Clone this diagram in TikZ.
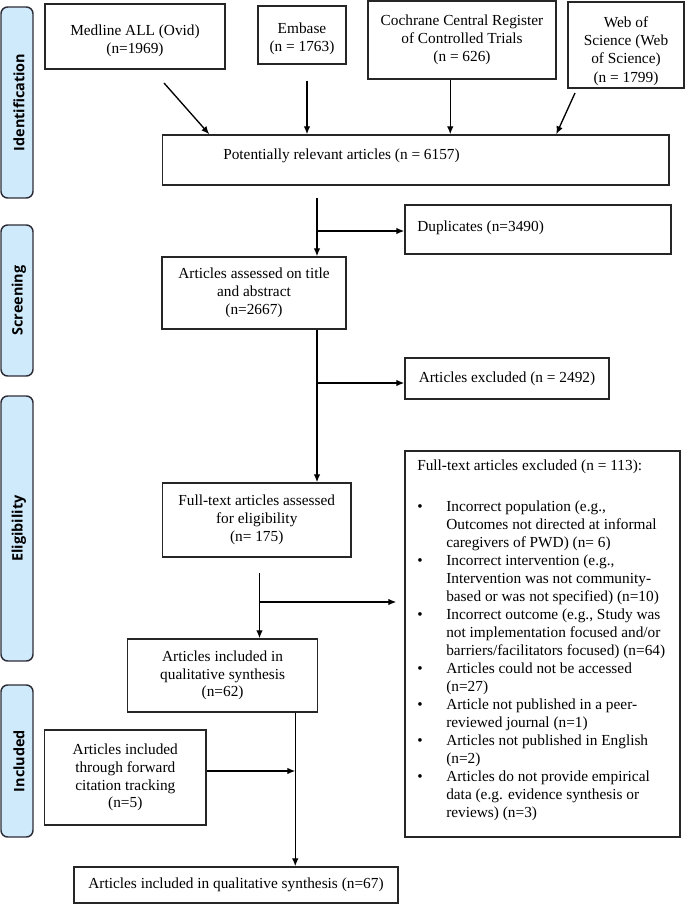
\documentclass[tikz,border=0pt]{standalone}
\usepackage{fontspec}
\setmainfont{Liberation Serif}
\newfontfamily\sidefont{Open Sans}
\usetikzlibrary{arrows.meta,calc,fit}
\definecolor{barfill}{RGB}{207,234,251}
\definecolor{barline}{RGB}{45,45,55}
\begin{document}
\begin{tikzpicture}[x=0.75pt,y=-0.75pt,
  box/.style={draw=black!85, line width=1.1pt, inner sep=0pt, align=center, font=\fontsize{11.5}{13.3}\selectfont},
  sz/.style 2 args={minimum width={#1*0.75pt}, minimum height={#2*0.75pt}},
  txt/.style={inner sep=0pt, font=\fontsize{11.5}{13.5}\selectfont},
  bar/.style={draw=barline, fill=barfill, line width=1.1pt, rounded corners=5pt, inner sep=0pt},
  barlabel/.style={rotate=90, inner sep=0pt, font=\sidefont\bfseries\fontsize{10.8}{12}\selectfont},
  arr/.style={line width=1pt, -{Latex[length=6pt,width=5pt]}}]
\useasboundingbox (0,0) rectangle (685,913);

% side bars
\node[bar, fit={(1,7)(33,198)}] (b1) {};
\node[barlabel] (l1) at ($(b1.center)+(2,0)$) {Identification};
\node[bar, fit={(1,225)(33,376)}] (b2) {};
\node[barlabel] (l2) at ($(b2.center)+(2,0)$) {Screening};
\node[bar, fit={(1,396)(33,661)}] (b3) {};
\node[barlabel] (l3) at ($(b3.center)+(2,0)$) {Eligibility};
\node[bar, fit={(1,685)(33,837)}] (b4) {};
\node[barlabel] (l4) at ($(b4.center)+(2,0)$) {Included};

% identification boxes
\node[box, sz={180}{65}] (med) at (135,36.5) {};
\node[txt, align=center, font=\fontsize{11.5}{13.3}\selectfont] (medt) at ($(med.center)+(0,4)$) {Medline ALL (Ovid)\\(n=1969)};
\node[box, sz={88}{58}] (emb) at (302,35) {};
\node[txt, align=center, font=\fontsize{11.5}{13.3}\selectfont] (embt) at ($(emb.center)+(0,4)$) {Embase\\(n = 1763)};
\node[box, sz={188}{78}] (coch) at (462,40) {Cochrane Central Register\\of Controlled Trials\\(n = 626)};
\node[box, fit={(568,2)(684,88)}] (wos) {};
\node[txt, align=center, font=\fontsize{11.5}{13.7}\selectfont] (wost) at (626,51) {Web of\\Science (Web\\of Science)\\(n = 1799)};
\node[box, fit={(162.5,135)(669,185)}] (prel) {};
\node[txt, anchor=base west] (prelt) at (223,160) {Potentially relevant articles (n = 6157)};

% screening
\node[box, fit={(405,205)(671,254)}] (dup) {};
\node[txt, anchor=base west] (dupt) at (417,231) {Duplicates (n=3490)};
\node[box, sz={184}{72}] (assess) at (254,293) {Articles assessed on title\\and abstract\\(n=2667)};
\node[box, sz={204}{41}] (excl) at (507,378.5) {Articles excluded (n = 2492)};

% eligibility
\node[box, fit={(405,451)(680,837)}] (big) {};
\node[txt, anchor=base west] (bigt) at (417,470) {Full-text articles excluded (n = 113):};
\node[txt, anchor=base west] (bigl) at (417,511) {%
\begin{tabular}[t]{@{}p{21.75pt}@{}l@{}}
\textbullet & Incorrect population (e.g.,\\
 & Outcomes not directed at informal\\
 & caregivers of PWD) (n= 6)\\
\textbullet & Incorrect intervention (e.g.,\\
 & Intervention was not community-\\
 & based or was not specified) (n=10)\\
\textbullet & Incorrect outcome (e.g., Study was\\
 & not implementation focused and/or\\
 & barriers/facilitators focused) (n=64)\\
\textbullet & Articles could not be accessed\\
 & (n=27)\\
\textbullet & Article not published in a peer-\\
 & reviewed journal (n=1)\\
\textbullet & Articles not published in English\\
 & (n=2)\\
\textbullet & Articles do not provide empirical\\
 & data (e.g. evidence synthesis or\\
 & reviews) (n=3)
\end{tabular}};
\node[box, sz={188.5}{74}] (fta) at (256.75,520) {Full-text articles assessed\\for eligibility\\(n= 175)};
\node[box, sz={190}{73}] (inc) at (222.6,675.5) {Articles included in\\qualitative synthesis\\(n=62)};

% included
\node[box, sz={161.4}{95}] (fwd) at (125.3,777.5) {Articles included\\through forward\\citation tracking\\(n=5)};
\node[box, sz={324}{36}] (fin) at (236,885) {Articles included in qualitative synthesis (n=67)};

% connectors
\coordinate (a1) at (164,83);
\draw[arr] (a1) -- ($(prel.north west)+(47.5,0)$);
\coordinate (a2) at (307,81);
\draw[arr] (a2) -- (a2 |- prel.north);
\coordinate (a3) at ($(coch.south west)+(83,0)$);
\draw[arr] (a3) -- (a3 |- prel.north);
\coordinate (a4) at (575,93);
\draw[arr] (a4) -- ($(prel.north west)+(394.5,0)$);

\coordinate (v1) at (317,198);
\draw[arr] (v1) -- (v1 |- assess.north);
\coordinate (v1b) at (317,231);
\draw[arr] (v1b) -- (v1b -| dup.west);

\coordinate (v2) at (v1 |- assess.south);
\draw[arr] (v2) -- (v2 |- fta.north);
\coordinate (v2b) at (317,383);
\draw[arr] (v2b) -- (v2b -| excl.west);

\coordinate (v3) at (259.5,573);
\draw[arr] (v3) -- (v3 |- inc.north);
\coordinate (v3b) at (259.5,602);
\draw[arr] (v3b) -- ($(v3b -| big.west)+(-8,0)$);

\coordinate (v4) at ($(inc.south west)+(168.4,0)$);
\draw[arr] (v4) -- (v4 |- fin.north);
\coordinate (f1) at ($(fwd.east)+(0,-6.5)$);
\draw[arr] (f1) -- (f1 -| v4);
\end{tikzpicture}
\end{document}
